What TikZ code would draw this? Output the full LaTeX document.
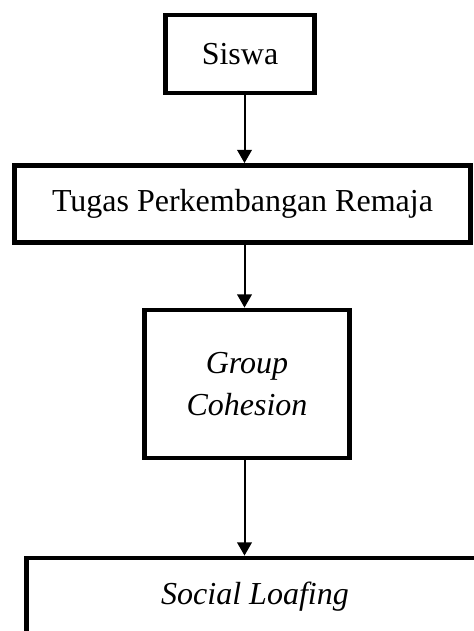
\documentclass[tikz,border=0pt]{standalone}
\usepackage{fontspec}
\setmainfont{Liberation Serif}
\usetikzlibrary{arrows.meta,positioning}
\tikzset{
  >={Triangle[width=11pt,length=10pt]},
  box/.style={draw=black,line width=3.6pt,fill=white,align=center,
    font=\fontsize{24}{32}\selectfont,inner sep=0pt},
  flow/.style={->,line width=1.5pt,draw=black},
}
\begin{document}
\begin{tikzpicture}[x=0.75pt,y=0.75pt]
        \clip (0,0) rectangle (474,-631);
        \fill[white] (0,0) rectangle (474,-631);
        \node[box,minimum width=111.75pt,minimum height=58.5pt] (siswa) at (240,-54) {Siswa};
        \node[box,minimum width=342pt,minimum height=57.75pt] (tugas) at (242.5,-204) {Tugas Perkembangan Remaja};
        \node[box,minimum width=153.75pt,minimum height=111pt] (cohesion) at (247,-384) {\textit{Group}\\\textit{Cohesion}};
        \node[box,minimum width=342.75pt,minimum height=58.5pt] (loafing) at (255,-597) {\textit{Social Loafing}};
        \coordinate (axis) at (244.5,0);
        \draw[flow] (siswa.south -| axis) -- (tugas.north -| axis);
        \draw[flow] (tugas.south -| axis) -- (cohesion.north -| axis);
        \draw[flow] (cohesion.south -| axis) -- (loafing.north -| axis);
      \end{tikzpicture}
\end{document}
